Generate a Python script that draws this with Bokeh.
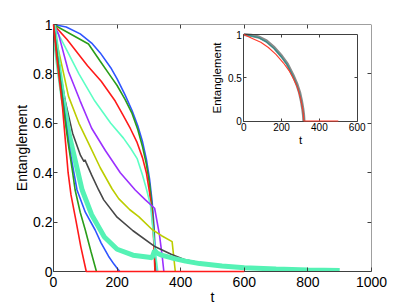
from bokeh.plotting import figure
from bokeh.models import Range1d, LinearAxis, FixedTicker, NumeralTickFormatter
from bokeh.embed import file_html
from bokeh.resources import INLINE

# ---------------- main panel data ----------------
blue_slow_t = [0, 40, 84, 120, 147, 180, 200, 225, 247, 265, 280, 292, 302, 310, 316, 320, 322]
blue_slow_e = [1, 0.99, 0.962, 0.925, 0.885, 0.825, 0.78, 0.715, 0.652, 0.59, 0.525, 0.455, 0.375, 0.285, 0.185, 0.08, 0]

green_slow_t = [0, 110, 147, 180, 200, 225, 247, 265, 280, 292, 302, 310, 316, 320]
green_slow_e = [1, 0.921, 0.851, 0.79, 0.753, 0.697, 0.64, 0.575, 0.505, 0.435, 0.355, 0.26, 0.15, 0]

red_slow_t = [0, 42, 107, 150, 194, 220, 242, 262, 280, 292, 302, 310, 315, 319]
red_slow_e = [1, 0.94, 0.833, 0.77, 0.69, 0.63, 0.578, 0.525, 0.46, 0.4, 0.32, 0.23, 0.13, 0]

cyan_thin_t = [0, 40, 80, 130, 180, 220, 242, 263, 280, 292, 305, 312, 318, 324, 328]
cyan_thin_e = [1, 0.9, 0.8, 0.69, 0.6, 0.54, 0.5, 0.457, 0.39, 0.335, 0.268, 0.18, 0.1, 0.04, 0]

purple_t = [0, 16, 47, 84, 120, 163, 210, 257, 289, 318, 333, 342, 347]
purple_e = [1, 0.96, 0.81, 0.69, 0.58, 0.49, 0.40, 0.33, 0.29, 0.256, 0.15, 0.06, 0]

yellow_t = [0, 15, 32, 47, 80, 110, 147, 184, 205, 240, 268, 310, 340, 373, 383]
yellow_e = [1, 0.9, 0.8, 0.71, 0.6, 0.52, 0.42, 0.335, 0.295, 0.25, 0.222, 0.17, 0.145, 0.121, 0]

gray_t = [0, 15, 37, 60, 85, 96, 99, 103, 120, 142, 158, 200, 250, 320, 370, 415, 480]
gray_e = [1, 0.85, 0.69, 0.56, 0.47, 0.445, 0.452, 0.44, 0.39, 0.33, 0.29, 0.22, 0.165, 0.10, 0.07, 0.047, 0.03]

thick_t = [0, 15, 30, 50, 70, 90, 120, 160, 200, 250, 300, 310, 318, 325, 340, 380, 415, 460, 530, 600, 700, 800, 900]
thick_e = [1, 0.84, 0.7, 0.55, 0.44, 0.33, 0.23, 0.14, 0.09, 0.066, 0.058, 0.056, 0.085, 0.075, 0.066, 0.052, 0.042, 0.032, 0.022, 0.015, 0.01, 0.006, 0.004]

blue_fast_t = [0, 15, 30, 50, 74, 100, 131, 150, 173, 190, 208]
blue_fast_e = [1, 0.84, 0.69, 0.5, 0.33, 0.24, 0.168, 0.115, 0.062, 0.03, 0]

green_fast_t = [0, 15, 30, 45, 58, 68, 84, 100, 118, 135]
green_fast_e = [1, 0.84, 0.68, 0.53, 0.42, 0.33, 0.24, 0.168, 0.08, 0]

red_fast_t = [0, 10, 20, 28, 38, 46, 55, 70, 86, 103, 600]
red_fast_e = [1, 0.87, 0.76, 0.67, 0.52, 0.4, 0.31, 0.21, 0.1, 0, 0]

x_ticks = [0, 200, 400, 600, 800, 1000]
y_ticks = [0, 0.2, 0.4, 0.6, 0.8, 1]

# ---------------- inset data ----------------
inset_t = [0, 40, 80, 120, 160, 200, 230, 260, 280, 295, 305, 312, 316, 318]
inset_gray_e = [1, 0.99, 0.97, 0.925, 0.85, 0.75, 0.66, 0.53, 0.43, 0.33, 0.23, 0.14, 0.07, 0]
inset_teal_e = [1, 0.985, 0.962, 0.915, 0.84, 0.74, 0.65, 0.52, 0.42, 0.32, 0.22, 0.13, 0.06, 0]
inset_red_t = [0, 45, 90, 130, 170, 210, 240, 265, 285, 298, 308, 314, 318, 500]
inset_red_e = [1, 0.955, 0.91, 0.85, 0.77, 0.67, 0.58, 0.48, 0.38, 0.28, 0.18, 0.1, 0, 0]
inset_x_ticks = [0, 200, 400, 600]
inset_y_ticks = [0, 0.5, 1]

# ---------------- layout constants ----------------
W, H = 409, 307
BL, BR, BT, BB = 53, 38, 24, 36
FONT = "Liberation Sans"
AX = "#404040"

p = figure(width=W, height=H, x_range=Range1d(0, 1000), y_range=Range1d(0, 1),
           output_backend="svg", toolbar_location=None,
           min_border_left=BL, min_border_right=BR, min_border_top=BT, min_border_bottom=BB,
           x_axis_label="t", y_axis_label="Entanglement")
p.grid.visible = False
p.outline_line_color = None
p.background_fill_color = "white"
p.border_fill_color = "white"


def style_axis(ax, size="14px", labels=True):
    ax.axis_line_color = AX
    ax.major_tick_line_color = AX
    ax.major_tick_in = 4
    ax.major_tick_out = 0
    ax.minor_tick_line_color = None
    ax.major_label_text_font = FONT
    ax.major_label_text_font_size = size
    ax.major_label_text_color = "black" if labels else None
    ax.axis_label_text_font = FONT
    ax.axis_label_text_font_style = "normal"
    ax.axis_label_text_color = "black"


xa = p.xaxis[0]
ya = p.yaxis[0]
style_axis(xa)
style_axis(ya)
xa.ticker = FixedTicker(ticks=x_ticks)
ya.ticker = FixedTicker(ticks=y_ticks)
ya.formatter = NumeralTickFormatter(format="0.[0]")
xa.axis_label_text_font_size = "14px"
ya.axis_label_text_font_size = "14px"
xa.major_label_standoff = 5
xa.axis_label_standoff = -1
ya.major_label_standoff = 1
ya.axis_label_standoff = 0

top = LinearAxis(fixed_location=1, ticker=FixedTicker(ticks=x_ticks[1:-1]))
style_axis(top, labels=False)
p.add_layout(top, "above")
right = LinearAxis(fixed_location=1000, ticker=FixedTicker(ticks=y_ticks[1:-1]))
style_axis(right, labels=False)
p.add_layout(right, "right")

# main curves
lw = 1.6
p.line(blue_slow_t, blue_slow_e, line_color="#2f55ff", line_width=lw)
p.line(green_slow_t, green_slow_e, line_color="#2a9d1a", line_width=lw)
p.line(red_slow_t, red_slow_e, line_color="#ff1a1a", line_width=lw)
p.line(cyan_thin_t, cyan_thin_e, line_color="#5cffc4", line_width=lw)
p.line(purple_t, purple_e, line_color="#9b30ff", line_width=lw)
p.line(yellow_t, yellow_e, line_color="#bccd00", line_width=lw)
p.line(gray_t, gray_e, line_color="#474747", line_width=lw)
p.line(thick_t, thick_e, line_color="#55f2b5", line_width=5)
p.line(blue_fast_t, blue_fast_e, line_color="#2f55ff", line_width=lw)
p.line(green_fast_t, green_fast_e, line_color="#2a9d1a", line_width=lw)
p.line(red_fast_t, red_fast_e, line_color="#ff1a1a", line_width=lw, level="overlay")

# ---------------- inset placement (page px -> main data) ----------------
FL, FT = BL, BT
FR, FB = W - BR, H - BB
IX0, IX1, IY0, IY1 = 243.3, 356.7, 34.0, 120.5  # inset box on page
tx0 = (IX0 - FL) / (FR - FL) * 1000
tx1 = (IX1 - FL) / (FR - FL) * 1000
ey_top = (FB - IY0) / (FB - FT)
ey_bot = (FB - IY1) / (FB - FT)
sx = 600 / (tx1 - tx0)
sy = 1 / (ey_top - ey_bot)
p.extra_x_ranges = {"ix": Range1d(-tx0 * sx, (1000 - tx0) * sx)}
p.extra_y_ranges = {"iy": Range1d(-ey_bot * sy, (1 - ey_bot) * sy)}

p.quad(left=[0], right=[600], bottom=[0], top=[1], fill_color="white", line_color=None,
       x_range_name="ix", y_range_name="iy")
p.line(inset_t, inset_gray_e, line_color="#8a8a8a", line_width=3.2, x_range_name="ix", y_range_name="iy")
p.line(inset_t, inset_teal_e, line_color="#2f8f8a", line_width=1.2, x_range_name="ix", y_range_name="iy")
p.line(inset_red_t, inset_red_e, line_color="#ff3a2a", line_width=1.1, x_range_name="ix", y_range_name="iy",
       level="overlay")

il = LinearAxis(x_range_name="ix", y_range_name="iy", fixed_location=0, bounds=(0, 1),
                ticker=FixedTicker(ticks=inset_y_ticks), formatter=NumeralTickFormatter(format="0.[0]"),
                axis_label="Entanglement")
style_axis(il, size="10px")
il.major_tick_in = 3
il.major_label_standoff = 2
il.axis_label_text_font_size = "11.5px"
il.axis_label_standoff = 2
p.add_layout(il, "left")

ib = LinearAxis(x_range_name="ix", y_range_name="iy", fixed_location=0, bounds=(0, 600),
                ticker=FixedTicker(ticks=inset_x_ticks), axis_label="t")
style_axis(ib, size="10px")
ib.major_tick_in = 3
ib.major_label_standoff = 2
ib.axis_label_text_font_size = "11.5px"
ib.axis_label_standoff = -1
p.add_layout(ib, "below")

it = LinearAxis(x_range_name="ix", y_range_name="iy", fixed_location=1, bounds=(0, 600),
                ticker=FixedTicker(ticks=inset_x_ticks[1:-1]))
style_axis(it, size="10px", labels=False)
it.major_tick_in = 3
p.add_layout(it, "above")

ir = LinearAxis(x_range_name="ix", y_range_name="iy", fixed_location=600, bounds=(0, 1),
                ticker=FixedTicker(ticks=[0.5]))
style_axis(ir, size="10px", labels=False)
ir.major_tick_in = 3
p.add_layout(ir, "right")

open("out.html", "w").write(file_html(p, INLINE))
